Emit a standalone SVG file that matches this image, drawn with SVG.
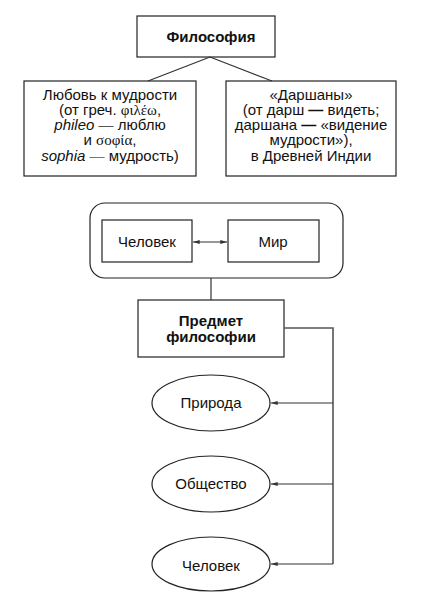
<svg xmlns="http://www.w3.org/2000/svg" width="422" height="595" viewBox="0 0 422 595">
<defs>
<style>
.box{fill:#fff;stroke:#222;stroke-width:1.2}
.ln{fill:none;stroke:#333;stroke-width:1.2}
.vl{fill:none;stroke:#555;stroke-width:1.6}
text{font-family:"Liberation Sans",Arial,sans-serif;font-size:15px;fill:#111;text-anchor:middle}
.b{font-weight:bold}
.g{font-family:"Liberation Serif","DejaVu Serif",serif}
</style>
<marker id="ah" viewBox="0 0 10 6" refX="10" refY="3" markerWidth="7" markerHeight="4" orient="auto-start-reverse" markerUnits="userSpaceOnUse">
<path d="M0,0 L10,3 L0,6 Z" fill="#333"/>
</marker>
</defs>
<g id="philosophy">
<rect class="box" x="137" y="16" width="138" height="41"/>
<text class="b" x="211" y="42" font-size="14.5">Философия</text>
</g>
<g id="love">
<rect class="box" x="24" y="81" width="172" height="95"/>
<text x="110" y="99.5">Любовь к мудрости</text>
<text x="110" y="114.7">(от греч. <tspan class="g">φιλέω</tspan>,</text>
<text x="110" y="130">
<tspan font-style="italic">phileo</tspan> <tspan fill="#555">—</tspan> люблю</text>
<text x="110" y="145.2">и <tspan class="g">σοφία</tspan>,</text>
<text x="110" y="160.5"><tspan font-style="italic">sophia</tspan> <tspan fill="#777">—</tspan> мудрость)</text>
</g>
<g id="darshana">
<rect class="box" x="226" y="81" width="170" height="95"/>
<text x="311" y="99.5">«Даршаны»</text>
<text x="311" y="114.7">(от дарш <tspan class="b">—</tspan> видеть;</text>
<text x="311" y="130">даршана <tspan class="b">—</tspan> «видение</text>
<text x="311" y="145.2">мудрости»),</text>
<text x="311" y="160.5">в Древней Индии</text>
</g>
<g id="group">
<rect class="box" x="90" y="203" width="253" height="75" rx="15"/>
</g>
<g id="man">
<rect class="box" x="102" y="220" width="90" height="42"/>
<text x="147" y="247">Человек</text>
</g>
<g id="world">
<rect class="box" x="228" y="220" width="91" height="42"/>
<text x="273" y="246.5">Мир</text>
</g>
<g id="subject">
<rect class="box" x="138" y="300" width="146" height="57"/>
<text class="b" x="211" y="325.5">Предмет</text>
<text class="b" x="211" y="342">философии</text>
</g>
<g id="nature">
<ellipse class="box" cx="211" cy="403" rx="59" ry="28"/>
<text x="211" y="407.5">Природа</text>
</g>
<g id="society">
<ellipse class="box" cx="211" cy="484" rx="59" ry="28"/>
<text x="211" y="489.3">Общество</text>
</g>
<g id="human">
<ellipse class="box" cx="211" cy="564" rx="59" ry="27"/>
<text x="211" y="570.5">Человек</text>
</g>
<g id="connectors">
<path class="ln" d="M210,57 L148,81 M210,57 L272,81"/>
<path class="ln" d="M193,242 L227,242" marker-start="url(#ah)" marker-end="url(#ah)"/>
<path class="ln" d="M211,278 L211,300"/>
<path class="vl" d="M284,328 L333,328 L333,564"/>
<path class="ln" d="M333,403 L271,403" marker-end="url(#ah)"/>
<path class="ln" d="M333,484 L271,484" marker-end="url(#ah)"/>
<path class="ln" d="M333,564 L271,564" marker-end="url(#ah)"/>
</g>
</svg>
